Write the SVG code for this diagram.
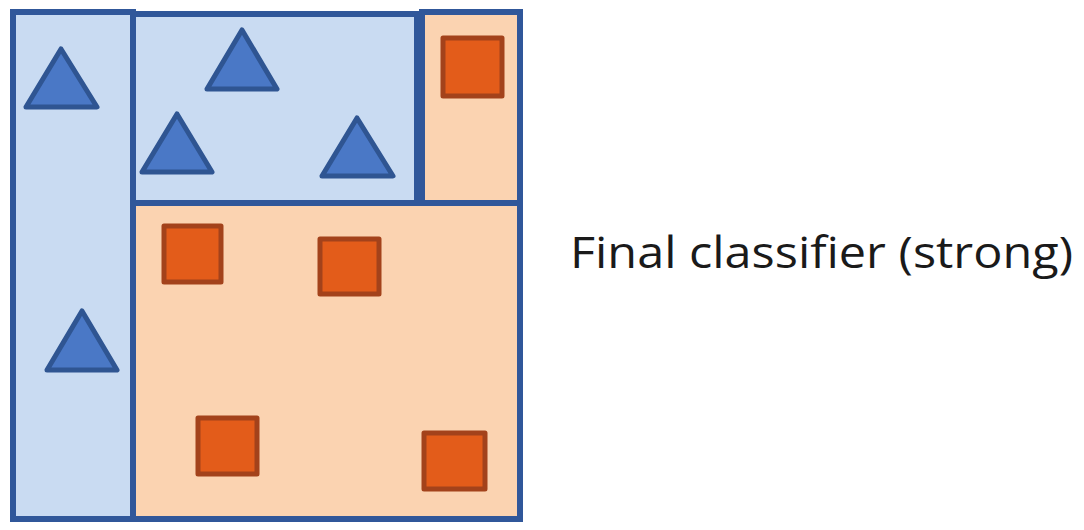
<svg xmlns="http://www.w3.org/2000/svg" width="1084" height="530" viewBox="0 0 1084 530">
<style>
.blue{fill:#c9dbf2;stroke:#30579a;stroke-width:6}
.peach{fill:#fbd3b1;stroke:#30579a;stroke-width:6}
.tri{fill:#4a78c6;stroke:#2f5592;stroke-width:5;stroke-linejoin:round}
.sq{fill:#e35c1a;stroke:#a3421b;stroke-width:5;stroke-linejoin:round}
.lbl{font-family:"Open Sans","Noto Sans",sans-serif;font-size:44px;fill:#1a1a1a}
</style>
<rect width="1084" height="530" fill="#ffffff"/>
<g id="regions">
<rect id="r-left" class="blue" x="13" y="12" width="120" height="507"/>
<rect id="r-bottom" class="peach" x="133" y="203" width="387" height="316"/>
<rect id="r-topmid" class="blue" x="133" y="14" width="284" height="189"/>
<rect id="r-topright" class="peach" x="422" y="12" width="98" height="191"/>
</g>
<g id="triangles">
<polygon id="t1" class="tri" points="61,49 97,107 26,107"/>
<polygon id="t2" class="tri" points="242,30 277,89 207,89"/>
<polygon id="t3" class="tri" points="177,114 212,172 142,172"/>
<polygon id="t4" class="tri" points="357,118 393,176 322,176"/>
<polygon id="t5" class="tri" points="82,311 117,370 47,370"/>
</g>
<g id="squares">
<rect id="s1" class="sq" x="443" y="38" width="59" height="58"/>
<rect id="s2" class="sq" x="164" y="226" width="57" height="56"/>
<rect id="s3" class="sq" x="320" y="239" width="59" height="55"/>
<rect id="s4" class="sq" x="198" y="418" width="59" height="56"/>
<rect id="s5" class="sq" x="424" y="433" width="61" height="56"/>
</g>
<g id="label">
<text class="lbl" x="570" y="268" textLength="503" lengthAdjust="spacingAndGlyphs">Final classifier (strong)</text>
</g>
</svg>
